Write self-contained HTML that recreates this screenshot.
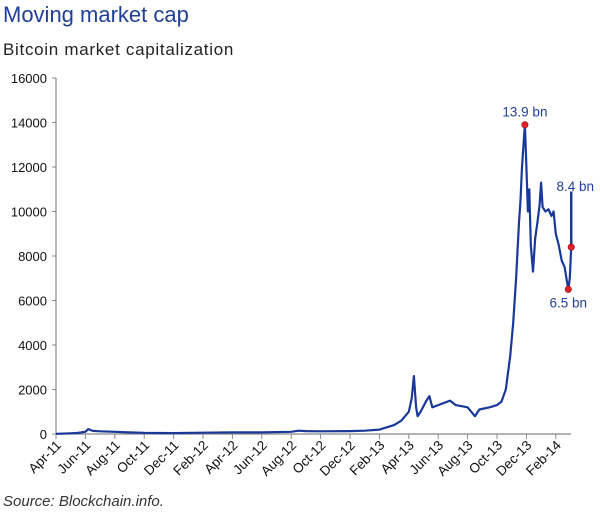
<!DOCTYPE html>
<html><head><meta charset="utf-8"><style>
body{margin:0;background:#fff;width:600px;height:513px;overflow:hidden;font-family:"Liberation Sans",sans-serif}
</style></head><body>
<svg width="600" height="513">
<text x="3" y="22" font-size="22" fill="#1f3f9a">Moving market cap</text>
<text x="3" y="55" font-size="17" fill="#222" letter-spacing="0.7">Bitcoin market capitalization</text>
<g id="yaxis"></g>
<g id="xaxis"></g>
<g id="plot"></g>
<text x="3" y="506" font-size="15" font-style="italic" fill="#333">Source: Blockchain.info.</text>
</svg>
<script>
const xLabels=["Apr-11","Jun-11","Aug-11","Oct-11","Dec-11","Feb-12","Apr-12","Jun-12","Aug-12","Oct-12","Dec-12","Feb-13","Apr-13","Jun-13","Aug-13","Oct-13","Dec-13","Feb-14"];
const yTicks=[0,2000,4000,6000,8000,10000,12000,14000,16000];
const months=[0,1,1.5,2,2.2,2.5,3,4,5,6,8,10,12,14,16,16.5,17,18,20,21,22,22.5,23,23.5,24,24.2,24.35,24.5,24.6,24.8,25.2,25.4,25.6,26,26.8,27.2,28,28.5,28.8,29.5,30,30.3,30.6,30.9,31.1,31.3,31.5,31.6,31.7,31.8,31.9,32,32.1,32.2,32.3,32.45,32.6,32.75,32.9,33,33.1,33.3,33.5,33.7,33.85,34,34.2,34.4,34.6,34.75,34.85,34.95,35.05];
const values=[10,30,50,100,220,140,120,100,70,50,40,60,70,70,100,150,130,120,130,150,200,300,400,600,1000,1600,2600,1200,800,1000,1500,1700,1200,1300,1500,1300,1200,800,1100,1200,1300,1450,2000,3500,5000,7000,9500,10500,12000,13000,13900,12000,10000,11000,8500,7300,8800,9500,10300,11300,10200,10000,10100,9800,10000,9000,8500,7800,7500,6900,6500,7000,8400];
const markerMonths=[31.9,34.85,35.05];
const markerValues=[13900,6500,8400];
const markerLabels=["13.9 bn","6.5 bn","8.4 bn"];
const spikeMonth=35.05, spikeTop=10900;
const NS="http://www.w3.org/2000/svg";
const X=m=>56+m*14.7, Y=v=>434-v*(356/16000);
function mk(t,a,p){const e=document.createElementNS(NS,t);for(const k in a)e.setAttribute(k,a[k]);p.appendChild(e);return e;}
const ya=document.getElementById('yaxis'),xa=document.getElementById('xaxis'),pl=document.getElementById('plot');
let l=mk('line',{x1:56,y1:Y(16000),x2:56,y2:434,stroke:'#888','stroke-width':1.2},ya);

yTicks.forEach(v=>{const t=mk('text',{x:47,y:Y(v)+5,'font-size':13,'text-anchor':'end',fill:'#111'},ya);t.textContent=v;

const k=mk('line',{x1:52,x2:56,y1:Y(v),y2:Y(v),stroke:'#888'},ya);
});
l=mk('line',{x1:56,y1:434,x2:571,y2:434,stroke:'#888','stroke-width':1.2},xa);

xLabels.forEach((s,i)=>{const x=X(i*2);
const k=mk('line',{x1:x,x2:x,y1:434,y2:439,stroke:'#888'},xa);

const t=mk('text',{x:x+6,y:446,'font-size':13.5,'text-anchor':'end',fill:'#111',transform:`rotate(-45 ${x+6} 446)`},xa);t.textContent=s;
});
const d=months.map((m,i)=>(i?'L':'M')+X(m).toFixed(1)+','+Y(values[i]).toFixed(1)).join('');
const p=mk('path',{d:d,fill:'none',stroke:'#1a389a','stroke-width':2.2,'stroke-linejoin':'round'},pl);

const sp=mk('line',{x1:X(spikeMonth),x2:X(spikeMonth),y1:Y(markerValues[2]),y2:Y(spikeTop),stroke:'#1a389a','stroke-width':2.5},pl);

const lblPos=[[0,-8,'middle'],[0,18,'middle'],[4,-56,'middle']];
markerMonths.forEach((m,i)=>{const c=mk('circle',{cx:X(m),cy:Y(markerValues[i]),r:3.2,fill:'#e0202a',stroke:'#a01010','stroke-width':0.6},pl);

const t=mk('text',{x:X(m)+lblPos[i][0],y:Y(markerValues[i])+lblPos[i][1],'font-size':13.5,'text-anchor':lblPos[i][2],fill:'#1f3f9a'},pl);t.textContent=markerLabels[i];
});
</script>
</body></html>
